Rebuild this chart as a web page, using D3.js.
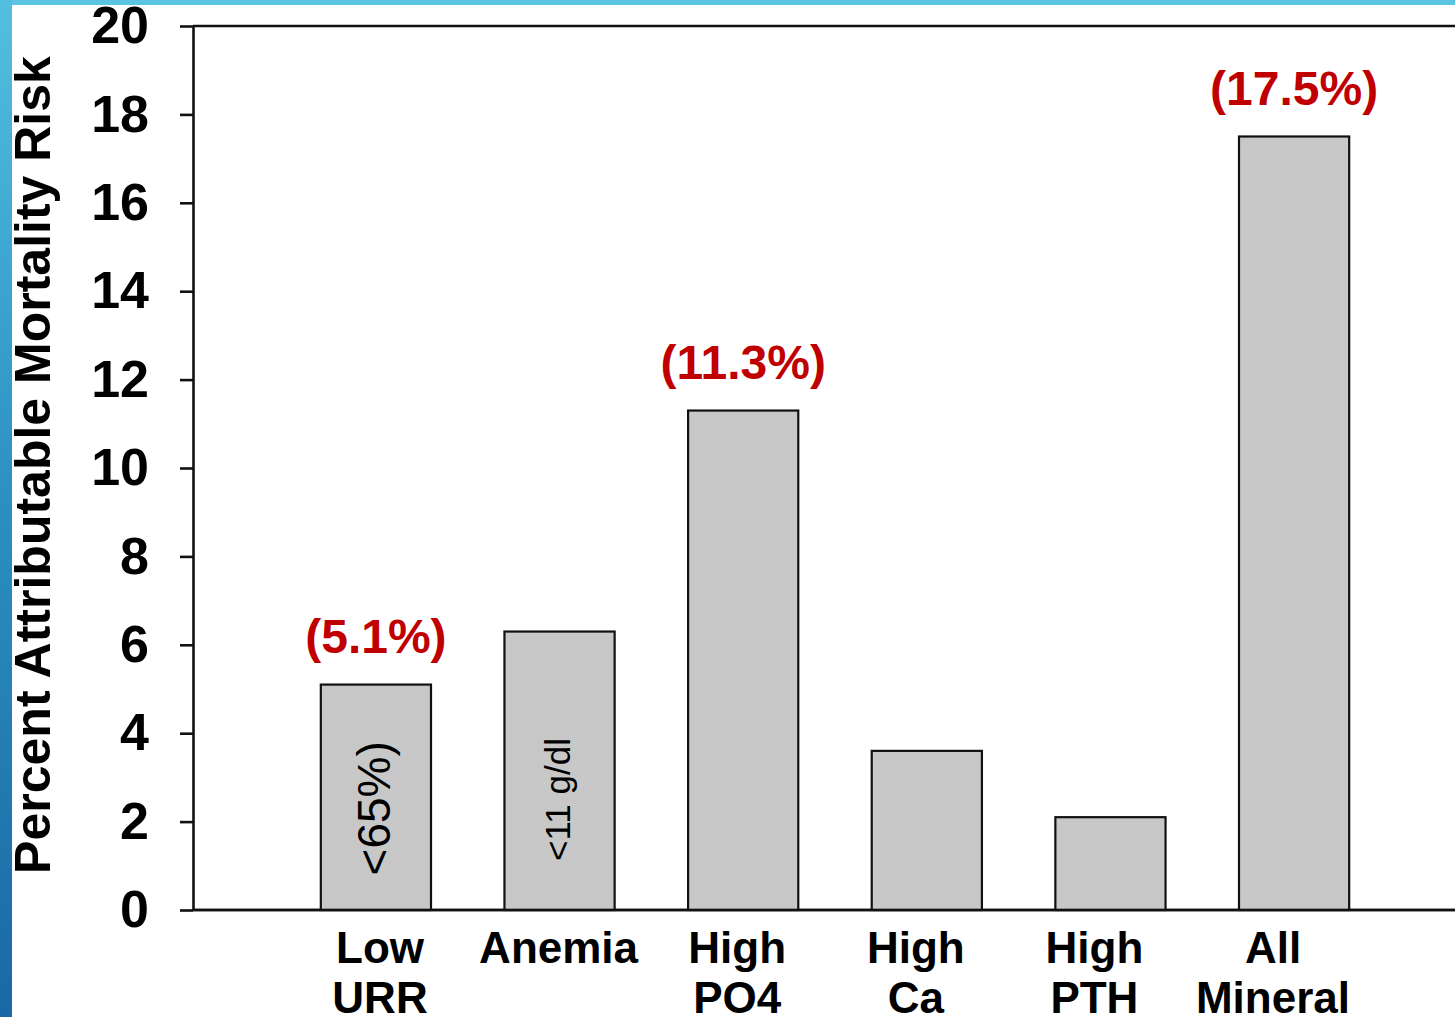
<!DOCTYPE html>
<html>
<head>
<meta charset="utf-8">
<script src="https://cdn.jsdelivr.net/npm/d3@7"></script>
<style>
  html, body { margin: 0; padding: 0; background: #fff; }
  svg { display: block; font-family: "Liberation Sans", Arial, sans-serif; }
</style>
</head>
<body>
<svg id="chart" width="1455" height="1017"></svg>
<script>
// Attributable mortality risk by risk factor
const categories = ["Low URR", "Anemia", "High PO4", "High Ca", "High PTH", "All Mineral"];
const categoryLines = [["Low", "URR"], ["Anemia"], ["High", "PO4"], ["High", "Ca"], ["High", "PTH"], ["All", "Mineral"]];
const riskValues = [5.1, 6.3, 11.3, 3.6, 2.1, 17.5];
const calloutValues = [5.1, null, 11.3, null, null, 17.5];
const innerNotes = ["<65%)", "<11 g/dl", "", "", "", ""];
const yTicks = [0, 2, 4, 6, 8, 10, 12, 14, 16, 18, 20];
const yTitle = "Percent Attributable Mortality Risk";

const svg = d3.select("#chart");
const W = 1455, H = 1017;

// slide decoration: blue top rule and left gradient band
const defs = svg.append("defs");
const grad = defs.append("linearGradient").attr("id", "sideBand")
  .attr("x1", 0).attr("y1", 0).attr("x2", 0).attr("y2", 1);
grad.append("stop").attr("offset", "0%").attr("stop-color", "#52bfe0");
grad.append("stop").attr("offset", "50%").attr("stop-color", "#2b8fc2");
grad.append("stop").attr("offset", "100%").attr("stop-color", "#1a68a5");

// fine stipple used for the bar fill
const pat = defs.append("pattern").attr("id", "stipple")
  .attr("width", 2).attr("height", 2).attr("patternUnits", "userSpaceOnUse");
pat.append("rect").attr("width", 2).attr("height", 2).attr("fill", "#cbcbcb");
pat.append("rect").attr("width", 1).attr("height", 1).attr("fill", "#c4c4c4");
pat.append("rect").attr("x", 1).attr("y", 1).attr("width", 1).attr("height", 1).attr("fill", "#c4c4c4");

svg.append("rect").attr("x", 0).attr("y", 0).attr("width", W).attr("height", 5).attr("fill", "#5ac4e2");
svg.append("rect").attr("x", 0).attr("y", 0).attr("width", 12).attr("height", H).attr("fill", "url(#sideBand)");

// scales
const axisX = 193;
const y = d3.scaleLinear().domain([0, 20]).range([910, 26]);
const x = d3.scaleBand().domain(categories).range([229, 1441]).paddingInner(0.4).paddingOuter(0.5);
const labelX = d3.scalePoint().domain(categories).range([380, 1273]);

const g = svg.append("g");

// y axis
const yAxis = d3.axisLeft(y).tickValues(yTicks).tickSize(13).tickSizeOuter(0).tickPadding(31);
const ya = g.append("g").attr("transform", `translate(${axisX},0)`).call(yAxis);
ya.select(".domain").attr("stroke", "#111").attr("stroke-width", 2.6);
ya.selectAll(".tick line").attr("stroke", "#111").attr("stroke-width", 2.6);
ya.selectAll(".tick text")
  .attr("font-family", "'Liberation Sans', Arial, sans-serif")
  .attr("font-size", 52).attr("font-weight", "bold").attr("fill", "#000");

// frame: top and bottom rules running off to the right
[0, 20].forEach(v => {
  g.append("line").attr("x1", axisX).attr("x2", W + 5)
    .attr("y1", y(v)).attr("y2", y(v))
    .attr("stroke", "#111").attr("stroke-width", 2.6);
});

// bars
g.selectAll("rect.bar").data(categories).join("rect")
  .attr("class", "bar")
  .attr("x", d => x(d))
  .attr("width", x.bandwidth())
  .attr("y", (d, i) => y(riskValues[i]))
  .attr("height", (d, i) => y(0) - y(riskValues[i]))
  .attr("fill", "url(#stipple)")
  .attr("stroke", "#111").attr("stroke-width", 2.2);

// redraw baseline over the bar bottoms
g.append("line").attr("x1", axisX).attr("x2", W + 5)
  .attr("y1", y(0)).attr("y2", y(0))
  .attr("stroke", "#111").attr("stroke-width", 2.6);

// rotated notes inside the first two bars (centred at a level on the value axis)
const noteSize = [46, 35];
const noteBase = [390, 570];
const noteLevel = [2.3, 2.5];
innerNotes.forEach((t, i) => {
  if (!t) return;
  g.append("text")
    .attr("transform", `translate(${noteBase[i]},${y(noteLevel[i])}) rotate(-90)`)
    .attr("text-anchor", "middle")
    .attr("font-size", noteSize[i])
    .attr("fill", "#000")
    .text(t);
});

// red value callouts
calloutValues.forEach((v, i) => {
  if (v == null) return;
  g.append("text")
    .attr("x", x(categories[i]) + x.bandwidth() / 2)
    .attr("y", y(v) - 32)
    .attr("text-anchor", "middle")
    .attr("font-size", 48).attr("font-weight", "bold")
    .attr("fill", "#c00000")
    .text(`(${v}%)`);
});

// category labels
categories.forEach((c, i) => {
  const t = g.append("text")
    .attr("text-anchor", "middle")
    .attr("font-size", 44).attr("font-weight", "bold").attr("fill", "#000");
  categoryLines[i].forEach((line, j) => {
    t.append("tspan").attr("x", labelX(c)).attr("y", 963 + j * 50).text(line);
  });
});

// y axis title
g.append("text")
  .attr("transform", `translate(50,465) rotate(-90)`)
  .attr("text-anchor", "middle")
  .attr("font-size", 50).attr("font-weight", "bold").attr("fill", "#000")
  .text(yTitle);
</script>
</body>
</html>
